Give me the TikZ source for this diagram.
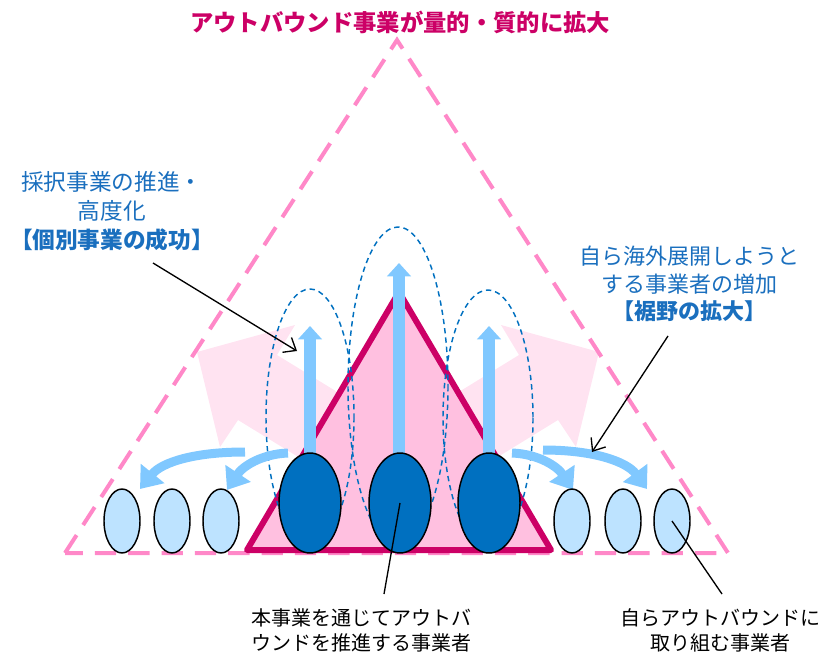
\documentclass[tikz,border=0pt]{standalone}
\usepackage{fontspec}
\newfontfamily\jp{Noto Sans CJK JP}
\usetikzlibrary{arrows.meta,shapes.geometric}
\definecolor{crim}{HTML}{CC0066}
\definecolor{dpink}{HTML}{FF88C8}
\definecolor{tpink}{HTML}{FFC0E0}
\definecolor{ppink}{HTML}{FFE3F1}
\definecolor{lblue}{HTML}{80C8FF}
\definecolor{dblue}{HTML}{0070C0}
\definecolor{sblue}{HTML}{BDE3FF}
\definecolor{tblue}{HTML}{1A6FBE}
\begin{document}
\begin{tikzpicture}[x=0.75pt,y=-0.75pt,
  outerdash/.style={draw=dpink, line width=3pt, dash pattern=on 16pt off 9pt},
  inner/.style={draw=crim, fill=tpink, line width=4.5pt, line join=round},
  paler/.style={fill=ppink},
  dashell/.style={draw=dblue, line width=1.1pt, dash pattern=on 4pt off 3pt},
  uparrow/.style={draw=lblue, line width=9pt, -{Triangle[length=10pt,width=17.5pt]}},
  curarrow/.style={draw=lblue, line width=6.75pt, -{Triangle[length=15pt,width=22pt]}},
  bigell/.style={ellipse, draw=black, line width=1.1pt, fill=dblue, minimum width=46.5pt, minimum height=75pt, inner sep=0pt},
  smallell/.style={ellipse, draw=black, line width=1.1pt, fill=sblue, minimum width=27pt, minimum height=48pt, inner sep=0pt},
  leader/.style={draw=black, line width=1pt},
  leadarrow/.style={draw=black, line width=1pt, -{Straight Barb[length=8pt,width=13pt]}},
  titletext/.style={font=\jp\bfseries\fontsize{17.5pt}{21pt}\selectfont, text=crim},
  sidetext/.style={align=center, text=tblue},
  bottext/.style={align=center, text=black, font=\jp\fontsize{15pt}{18.75pt}\selectfont}
]
\useasboundingbox (0,0) rectangle (839,659);

% pale pink wide arrows
\fill[paler] (197,352) -- (295,325) -- (277,355) -- (404,433) -- (365,498) -- (238,420) -- (220,447) -- cycle;
\fill[paler] (599,352) -- (501,325) -- (519,355) -- (392,433) -- (431,498) -- (558,420) -- (576,447) -- cycle;

% outer dashed triangle
\draw[outerdash] (65,553) -- (397,40) -- (728,553) -- cycle;

% inner triangle
\draw[inner] (399,292) -- (551,550) -- (247,550) -- cycle;

% dashed ellipses
\draw[dashell] (310,417) ellipse [x radius=44, y radius=128];
\draw[dashell] (398,386) ellipse [x radius=50, y radius=159];
\draw[dashell] (488,418) ellipse [x radius=45, y radius=128];

% coordinates for arrows
\coordinate (u1s) at (310,460); \coordinate (u1e) at (310,326);
\coordinate (u2s) at (399,460); \coordinate (u2e) at (399,263);
\coordinate (u3s) at (489,460); \coordinate (u3e) at (489,326);
\draw[uparrow] (u1s) -- (u1e);
\draw[uparrow] (u2s) -- (u2e);
\draw[uparrow] (u3s) -- (u3e);

% curved arrows
\coordinate (cl1s) at (245,452); \coordinate (cl1e) at (140,489);
\coordinate (cl2s) at (288,453); \coordinate (cl2e) at (227,490);
\coordinate (cr1s) at (512,453); \coordinate (cr1e) at (573,490);
\coordinate (cr2s) at (543,450); \coordinate (cr2e) at (647,489);
\draw[curarrow] (cl1s) .. controls (195,452) and (162,462) .. (cl1e);
\draw[curarrow] (cl2s) .. controls (262,454) and (243,466) .. (cl2e);
\draw[curarrow] (cr1s) .. controls (538,454) and (557,466) .. (cr1e);
\draw[curarrow] (cr2s) .. controls (595,450) and (627,462) .. (cr2e);

% big ellipses
\node[bigell] (d1) at (310,503) {};
\node[bigell] (d2) at (400,503) {};
\node[bigell] (d3) at (489,503) {};

% small ellipses
\node[smallell] (l1) at (122,521) {};
\node[smallell] (l2) at (172,521) {};
\node[smallell] (l3) at (221,521) {};
\node[smallell] (r1) at (572,521) {};
\node[smallell] (r2) at (623,521) {};
\node[smallell] (r3) at (672,521) {};

% texts
\node[titletext] (title) at (400,22) {アウトバウンド事業が量的・質的に拡大};
\node[sidetext, font=\jp\fontsize{17pt}{21.75pt}\selectfont] (lt) at (112,211)
  {採択事業の推進・\\高度化\\{\bfseries 【個別事業の成功】}};
\node[sidetext, font=\jp\fontsize{16.5pt}{20.6pt}\selectfont] (rt) at (689,284)
  {自ら海外展開しようと\\する事業者の増加\\{\bfseries 【裾野の拡大】}};
\node[bottext] (bl) at (361,630) {本事業を通じてアウトバ\\ウンドを推進する事業者};
\node[bottext] (br) at (720,630) {自らアウトバウンドに\\取り組む事業者};

% leaders
\coordinate (lts) at (153,263); \coordinate (lte) at (297,351);
\coordinate (rts) at (668,336); \coordinate (rte) at (592,452);
\coordinate (ble) at (384,594); \coordinate (bre) at (722,594);
\draw[leadarrow] (lts) -- (lte);
\draw[leadarrow] (rts) -- (rte);
\draw[leader] (d2.center) -- (ble);
\draw[leader] (r3.center) -- (bre);
\end{tikzpicture}
\end{document}
